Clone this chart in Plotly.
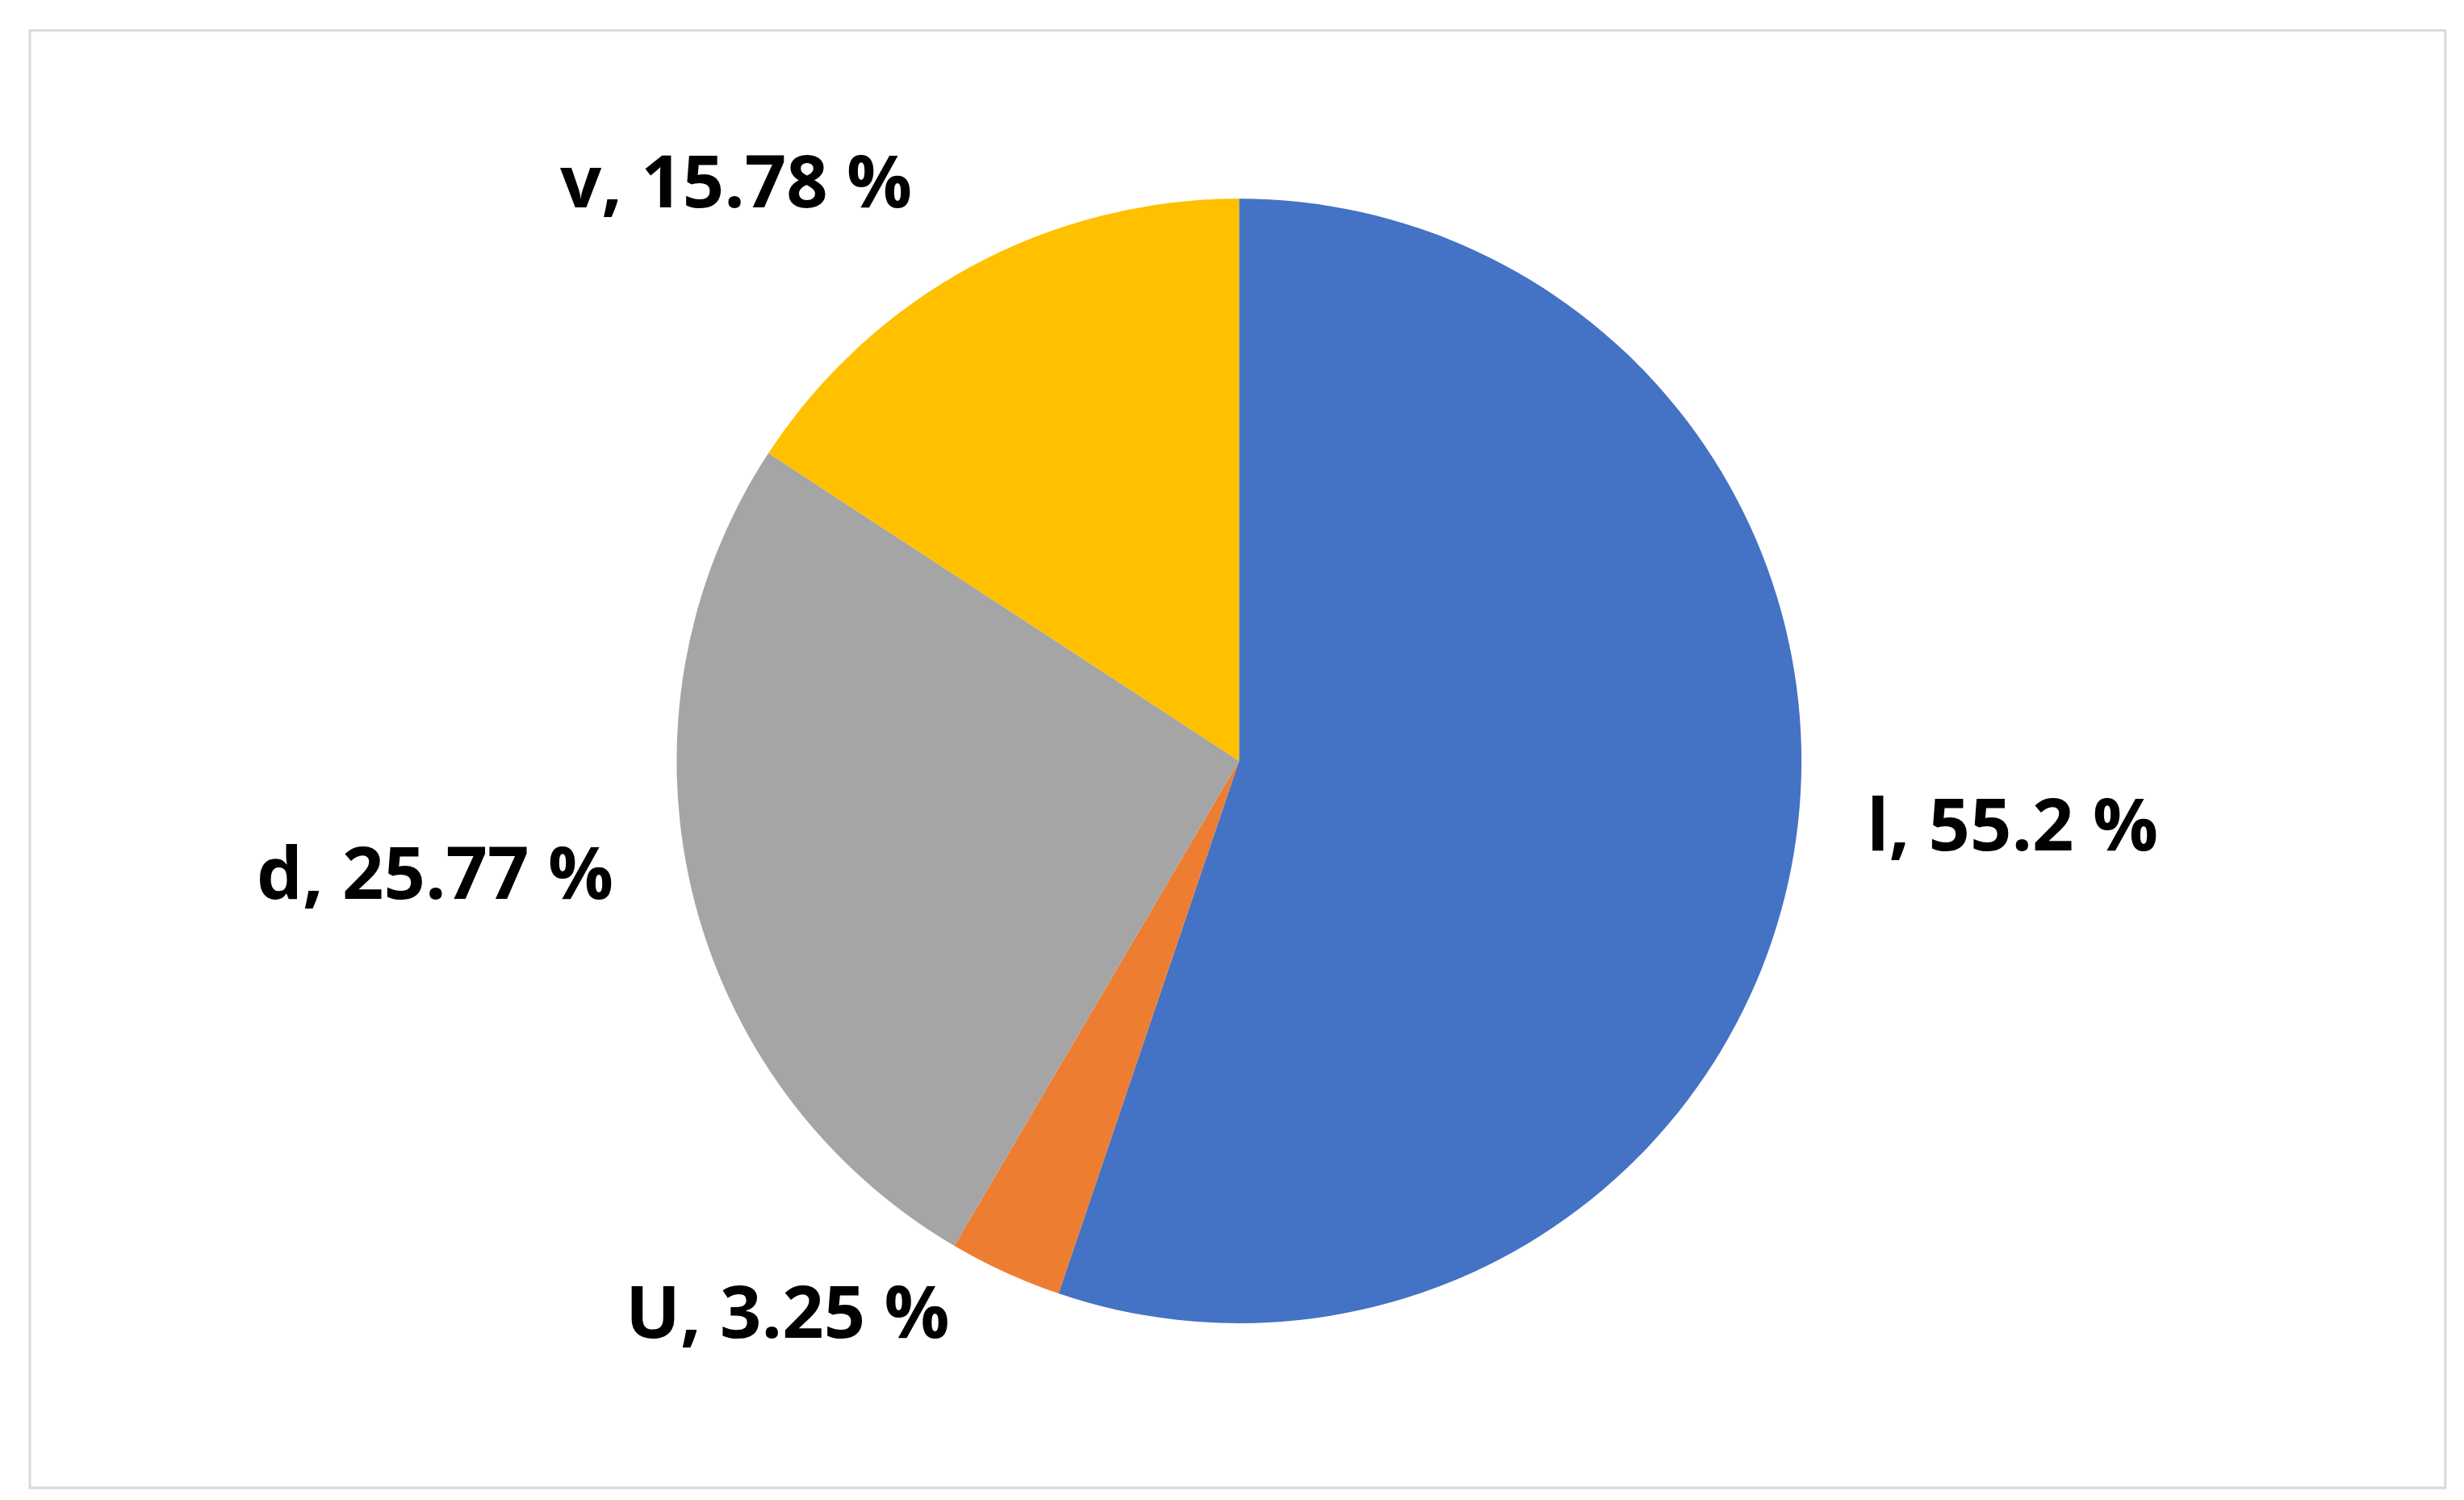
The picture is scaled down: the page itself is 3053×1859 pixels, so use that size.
import plotly.graph_objects as go

labels = ["l", "U", "d", "v"]
values = [55.2, 3.25, 25.77, 15.78]
colors = ["#4472C4", "#ED7D31", "#A5A5A5", "#FFC000"]
label_pos = {"l": (0.814, 0.456), "U": (0.317, 0.131), "d": (0.174, 0.424), "v": (0.296, 0.885)}

fig = go.Figure(go.Pie(
    labels=labels, values=values, sort=False, direction="clockwise", rotation=0,
    marker=dict(colors=colors), textinfo="none", showlegend=False,
    domain=dict(x=[0.272, 0.7285], y=[0.122, 0.872]), hoverinfo="label+value"))

for lab, v in zip(labels, values):
    x, y = label_pos[lab]
    fig.add_annotation(x=x, y=y, xref="paper", yref="paper", showarrow=False,
                       xanchor="center", yanchor="middle",
                       text=f"<b>{lab}, {v:g} %</b>",
                       font=dict(family="Open Sans", size=90, color="black"))

fig.add_shape(type="rect", xref="paper", yref="paper", x0=0.0095, x1=0.9898, y0=0.0124, y1=0.984,
              line=dict(color="#D9D9D9", width=3))
fig.update_layout(width=3053, height=1859, margin=dict(l=0, r=0, t=0, b=0),
                  paper_bgcolor="white", plot_bgcolor="white")
fig.write_html("out.html")
